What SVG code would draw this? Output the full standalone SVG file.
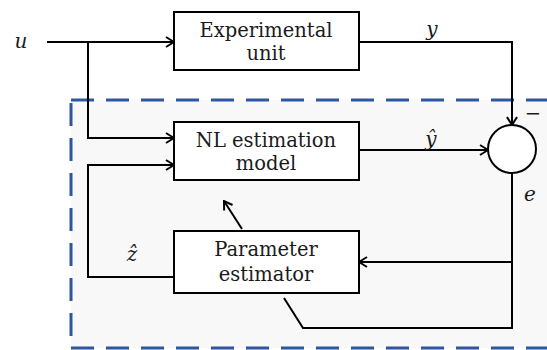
<svg xmlns="http://www.w3.org/2000/svg" width="547" height="350" viewBox="0 0 547 350">
  <style>
    .box { fill: #ffffff; stroke: #000000; stroke-width: 2; }
    .wire { fill: none; stroke: #000000; stroke-width: 2; }
    .lbl { font-family: "DejaVu Serif", "Liberation Serif", serif; font-size: 19.5px; fill: #1a1a1a; text-anchor: middle; }
    .var { font-family: "DejaVu Serif", "Liberation Serif", serif; font-size: 20px; font-style: italic; fill: #1a1a1a; text-anchor: middle; }
  </style>
  <defs>
    <marker id="arr" viewBox="0 0 10 12" refX="9" refY="6" markerWidth="10" markerHeight="12" markerUnits="userSpaceOnUse" orient="auto">
      <path d="M1,1 L9,6 L1,11" fill="none" stroke="#000000" stroke-width="2"/>
    </marker>
  </defs>
  <rect width="547" height="350" fill="#ffffff"/>
  <g id="boundary">
    <rect x="71" y="100" width="500" height="248" fill="#f8f8f8" stroke="#2E55A0" stroke-width="3" stroke-dasharray="23 12"/>
  </g>
  <g id="connectors">
    <polyline class="wire" points="47,42 174,42" marker-end="url(#arr)"/>
    <polyline class="wire" points="88,42 88,138 174,138" marker-end="url(#arr)"/>
    <polyline class="wire" points="174,277 88,277 88,165 174,165" marker-end="url(#arr)"/>
    <polyline class="wire" points="359,42 512,42 512,125" marker-end="url(#arr)"/>
    <polyline class="wire" points="359,150 488,150" marker-end="url(#arr)"/>
    <polyline class="wire" points="512,173 512,328 303,328 284,298"/>
    <polyline class="wire" points="512,262 359,262" marker-end="url(#arr)"/>
    <polyline class="wire" points="242,229 224,201" marker-end="url(#arr)"/>
  </g>
  <g id="experimental-unit">
    <rect class="box" x="174" y="12" width="185" height="58"/>
    <text class="lbl" x="266" y="37">Experimental</text>
    <text class="lbl" x="266" y="60">unit</text>
  </g>
  <g id="nl-estimation-model">
    <rect class="box" x="174" y="122" width="185" height="58"/>
    <text class="lbl" x="266" y="147">NL estimation</text>
    <text class="lbl" x="266" y="170">model</text>
  </g>
  <g id="parameter-estimator">
    <rect class="box" x="174" y="231" width="185" height="62"/>
    <text class="lbl" x="266" y="256">Parameter</text>
    <text class="lbl" x="266" y="281">estimator</text>
  </g>
  <g id="comparator">
    <circle cx="512" cy="149" r="24" fill="#ffffff" stroke="#000000" stroke-width="2"/>
  </g>
  <g id="labels">
    <text class="var" x="21" y="48">u</text>
    <text class="var" x="432" y="36">y</text>
    <text class="var" x="431" y="146">ŷ</text>
    <text class="var" x="132" y="261">ẑ</text>
    <text class="var" x="530" y="201">e</text>
    <text class="lbl" x="533" y="120">−</text>
  </g>
</svg>
